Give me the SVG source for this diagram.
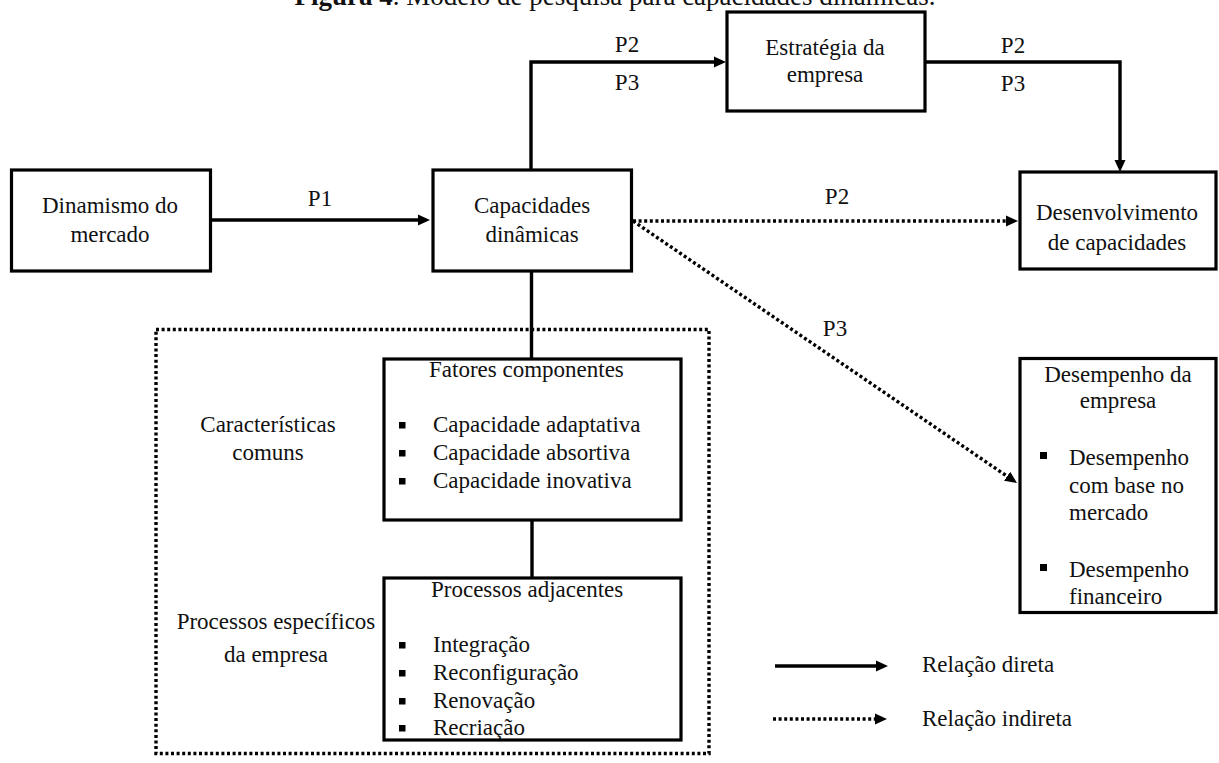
<svg xmlns="http://www.w3.org/2000/svg" width="1219" height="763" viewBox="0 0 1219 763" font-family="'Liberation Serif', 'Times New Roman', serif">
<defs>
<style>
text{font-family:'Liberation Serif','Times New Roman',serif;font-size:23px;fill:#111}
.c{text-anchor:middle}
.box{fill:#fff;stroke:#000;stroke-width:3.2}
.solid{fill:none;stroke:#000;stroke-width:3.4}
.dot{fill:none;stroke:#000;stroke-width:3.4;stroke-dasharray:3 2.6}
.blt{fill:#000}
</style>
<marker id="ah" markerUnits="userSpaceOnUse" markerWidth="13" markerHeight="12" refX="8" refY="6" orient="auto">
<path d="M0,0.5 L12,6 L0,11.5 z" fill="#000"/>
</marker>
</defs>
<rect width="1219" height="763" fill="#fff"/>
<text x="615" y="5" class="c" style="font-size:27px"><tspan font-weight="bold">Figura 4</tspan>. Modelo de pesquisa para capacidades dinâmicas.</text>

<g id="connectors">
<path class="solid" d="M211,220 H426" marker-end="url(#ah)"/>
<path class="solid" d="M531,169 V62 H722" marker-end="url(#ah)"/>
<path class="solid" d="M926,62 H1120 V168" marker-end="url(#ah)"/>
<path class="dot" d="M633,221 H1014" marker-end="url(#ah)"/>
<path class="dot" d="M633,221 L1013.7,480.8" marker-end="url(#ah)"/>
<path class="solid" d="M531.5,272 V358"/>
<path class="solid" d="M532,521 V577"/>
<text x="320" y="206" class="c">P1</text>
<text x="627" y="52" class="c">P2</text>
<text x="627" y="90" class="c">P3</text>
<text x="1013" y="53" class="c">P2</text>
<text x="1013" y="91" class="c">P3</text>
<text x="837" y="204" class="c">P2</text>
<text x="835" y="336" class="c">P3</text>
</g>

<g id="dinamismo">
<rect class="box" x="11.5" y="170" width="199" height="101"/>
<text x="110" y="213" class="c">Dinamismo do</text>
<text x="110" y="242" class="c">mercado</text>
</g>

<g id="capacidades">
<rect class="box" x="433" y="170" width="198.5" height="101"/>
<text x="532" y="213" class="c">Capacidades</text>
<text x="532" y="242" class="c">dinâmicas</text>
</g>

<g id="estrategia">
<rect class="box" x="727" y="12" width="198" height="99"/>
<text x="825" y="55" class="c">Estratégia da</text>
<text x="825" y="82" class="c">empresa</text>
</g>

<g id="desenvolvimento">
<rect class="box" x="1020" y="172" width="196" height="97"/>
<text x="1117" y="220" class="c">Desenvolvimento</text>
<text x="1117" y="250" class="c">de capacidades</text>
</g>

<g id="desempenho">
<rect class="box" x="1020" y="358.5" width="196" height="254"/>
<text x="1118" y="382" class="c">Desempenho da</text>
<text x="1118" y="408" class="c">empresa</text>
<rect class="blt" x="1040" y="452" width="7" height="7"/>
<text x="1069" y="465">Desempenho</text>
<text x="1069" y="493">com base no</text>
<text x="1069" y="520">mercado</text>
<rect class="blt" x="1040" y="564" width="7" height="7"/>
<text x="1069" y="577">Desempenho</text>
<text x="1069" y="604">financeiro</text>
</g>

<g id="grupo">
<rect class="dot" x="156" y="329.5" width="553" height="424" stroke-width="3"/>
<text x="268" y="432" class="c">Características</text>
<text x="268" y="460" class="c">comuns</text>
<text x="276" y="629" class="c">Processos específicos</text>
<text x="276" y="662" class="c">da empresa</text>
</g>

<g id="fatores">
<rect class="box" x="384" y="359" width="297" height="161"/>
<text x="429" y="377">Fatores componentes</text>
<rect class="blt" x="399" y="422" width="6.5" height="6.5"/>
<text x="433" y="432">Capacidade adaptativa</text>
<rect class="blt" x="399" y="450" width="6.5" height="6.5"/>
<text x="433" y="460">Capacidade absortiva</text>
<rect class="blt" x="399" y="478" width="6.5" height="6.5"/>
<text x="433" y="488">Capacidade inovativa</text>
</g>

<g id="processos">
<text x="431" y="597">Processos adjacentes</text>
<rect class="blt" x="399" y="642" width="6.5" height="6.5"/>
<text x="433" y="652">Integração</text>
<rect class="blt" x="399" y="670" width="6.5" height="6.5"/>
<text x="433" y="680">Reconfiguração</text>
<rect class="blt" x="399" y="698" width="6.5" height="6.5"/>
<text x="433" y="708">Renovação</text>
<rect class="blt" x="399" y="725" width="6.5" height="6.5"/>
<text x="433" y="735">Recriação</text>
<rect x="384" y="578" width="297" height="162" fill="none" stroke="#000" stroke-width="3.2"/>
</g>

<g id="legenda">
<path class="solid" d="M775,666 H884" marker-end="url(#ah)"/>
<text x="922" y="672">Relação direta</text>
<path class="dot" d="M773,719 H883" marker-end="url(#ah)"/>
<text x="922" y="726">Relação indireta</text>
</g>
</svg>
